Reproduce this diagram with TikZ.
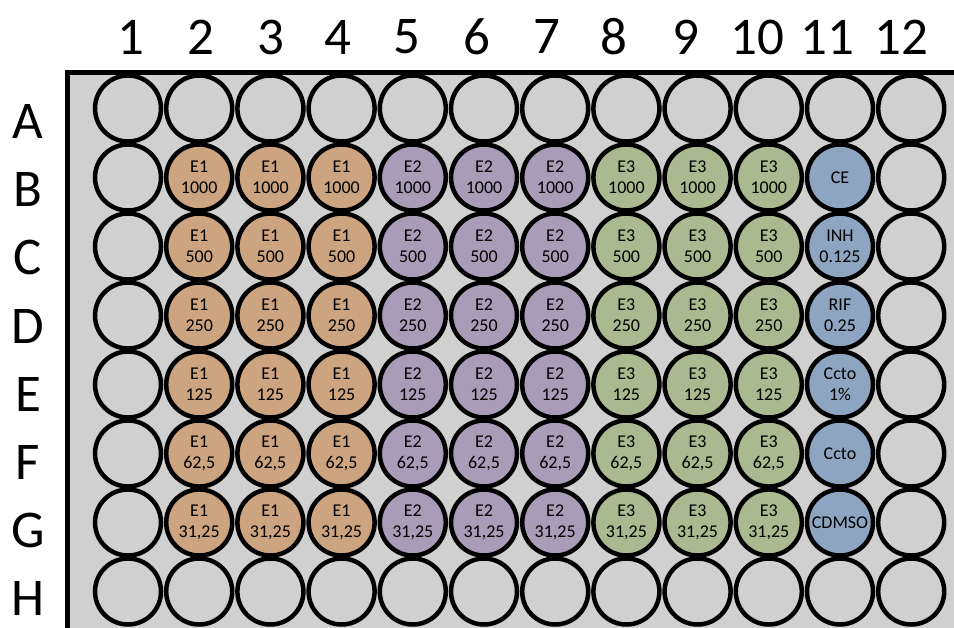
\documentclass[tikz,border=0pt]{standalone}
\usepackage{fontspec}
\setmainfont{Carlito}
\definecolor{PlateGray}{HTML}{D0D0D0}
\definecolor{WellTan}{HTML}{CCA480}
\definecolor{WellPurple}{HTML}{A99CB9}
\definecolor{WellGreen}{HTML}{AAB98F}
\definecolor{WellBlue}{HTML}{8EA5C1}
\usetikzlibrary{positioning}
\tikzset{
    % Well styles
    well/.style={
        circle,
        draw=black,
        line width=4.5pt,
        fill=PlateGray,
        minimum size=66pt,
        inner sep=0pt,
        align=center,
        font=\fontsize{18}{21}\selectfont
    },
    well tan/.style={
        well,
        fill=WellTan
    },
    well purple/.style={
        well,
        fill=WellPurple
    },
    well green/.style={
        well,
        fill=WellGreen
    },
    well blue/.style={
        well,
        fill=WellBlue
    },
    plate label/.style={
        font=\fontsize{53}{53}\selectfont,
        inner sep=0pt
    }
}
\begin{document}
\begin{tikzpicture}[x=1pt, y=-1pt]
    \useasboundingbox (0,0) rectangle (954,628);
    \clip (0,0) rectangle (954,628);

    % Plate
    \draw[line width=5pt, fill=PlateGray] (67,73) rectangle (1000,680);

    % Column labels
    \foreach \c/\x in {1/131,2/201,3/271,4/338,5/407,6/477,7/547,8/614,9/686,10/757,11/827,12/901}
        \node[plate label] (col\c) at (\x,37) {\c};

    % Row labels
    \foreach \r [count=\i from 0] in {A,B,C,D,E,F,G,H}
        \node[plate label] (row\r) at (28,{121.5+68.2*\i}) {\r};

    % Empty wells
    \foreach \r/\i in {A/0,H/7}
        \foreach \c in {1,...,12}
            \node[well] (\r\c) at ({128+71.2*(\c-1)},{108.5+69*\i}) {};
    \foreach \r/\i in {B/1,C/2,D/3,E/4,F/5,G/6}
        \foreach \c in {1,12}
            \node[well] (\r\c) at ({128+71.2*(\c-1)},{108.5+69*\i}) {};

    % Extract dilutions
    \foreach \r/\i/\v in {B/1/1000,C/2/500,D/3/250,E/4/125,F/5/{62,5},G/6/{31,25}} {
        \foreach \c in {2,3,4}
            \node[well tan] (\r\c) at ({128+71.2*(\c-1)},{108.5+69*\i}) {E1\\\v};
        \foreach \c in {5,6,7}
            \node[well purple] (\r\c) at ({128+71.2*(\c-1)},{108.5+69*\i}) {E2\\\v};
        \foreach \c in {8,9,10}
            \node[well green] (\r\c) at ({128+71.2*(\c-1)},{108.5+69*\i}) {E3\\\v};
    }

    % Controls
    \node[well blue] (B11) at (840,177.5) {CE};
    \node[well blue] (C11) at (840,246.5) {INH\\0.125};
    \node[well blue] (D11) at (840,315.5) {RIF\\0.25};
    \node[well blue] (E11) at (840,384.5) {Ccto\\1\%};
    \node[well blue] (F11) at (840,453.5) {Ccto};
    \node[well blue] (G11) at (840,522.5) {CDMSO};
\end{tikzpicture}
\end{document}
